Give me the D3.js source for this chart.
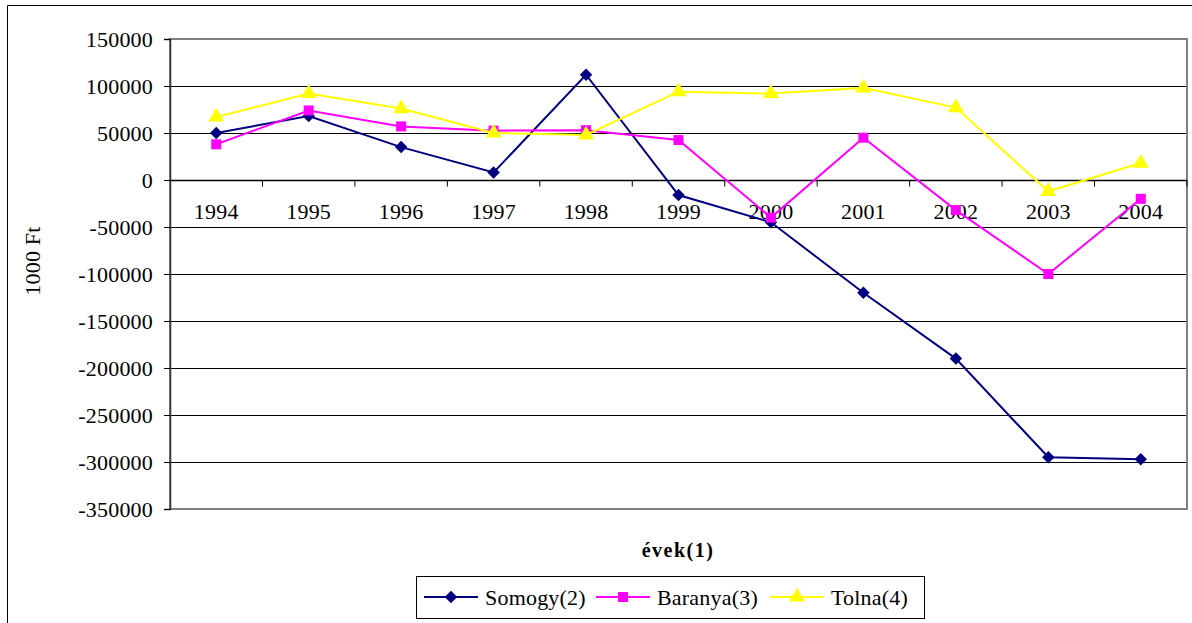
<html lang="hu">

<head>
    <meta charset="UTF-8">
    <title>Somogy, Baranya, Tolna</title>
    <script src="https://d3js.org/d3.v7.min.js"></script>
    <style>
        body { margin: 0; background: #fff; }
        text { font-family: "Liberation Serif", "Times New Roman", serif; font-size: 22px; fill: #000; letter-spacing: 0.2px; }
        .grid line { stroke: #000; stroke-width: 1; }
    </style>
</head>

<body>
    <svg width="1192" height="623"></svg>
    <script>

        var years = ["1994", "1995", "1996", "1997", "1998", "1999", "2000", "2001", "2002", "2003", "2004"];
        var somogy = [50000, 68000, 35000, 8000, 112000, -16000, -45000, -120000, -190000, -295000, -297000];
        var baranya = [38000, 74000, 57000, 52500, 53000, 42500, -40000, 45000, -32000, -100000, -20000];
        var tolna = [67000, 92000, 76000, 50000, 48000, 94000, 92000, 98000, 77000, -12000, 18000];
        var yTicks = [150000, 100000, 50000, 0, -50000, -100000, -150000, -200000, -250000, -300000, -350000];

        // diamond = square turned 45 degrees
        var series = [
            { name: "Somogy(2)", values: somogy, color: "#000080", symbol: d3.symbolSquare, size: 78, rot: 45 },
            { name: "Baranya(3)", values: baranya, color: "#ff00ff", symbol: d3.symbolSquare, size: 100, rot: 0 },
            { name: "Tolna(4)", values: tolna, color: "#ffff00", symbol: d3.symbolTriangle, size: 110, rot: 0 }
        ];

        var svg = d3.select("svg");
        var plotLeft = 170, plotRight = 1187, plotTop = 39, plotBottom = 509;

        var xScale = d3.scaleBand().domain(years).range([plotLeft, plotRight]).padding(0),
            yScale = d3.scaleLinear().domain([-350000, 150000]).range([plotBottom, plotTop]);
        var cx = function (i) { return xScale(years[i]) + xScale.bandwidth() / 2; };

        // outer frame (only top and left are inside the picture)
        svg.append("line").attr("x1", 7.5).attr("x2", 1192).attr("y1", 5.5).attr("y2", 5.5).attr("stroke", "#000");
        svg.append("line").attr("x1", 7.5).attr("x2", 7.5).attr("y1", 5.5).attr("y2", 623).attr("stroke", "#000");

        // horizontal gridlines
        svg.append("g").attr("class", "grid")
            .selectAll("line")
            .data(yTicks.slice(1, -1))
            .enter().append("line")
            .attr("x1", plotLeft).attr("x2", plotRight)
            .attr("y1", function (d) { return Math.round(yScale(d)) + 0.5; })
            .attr("y2", function (d) { return Math.round(yScale(d)) + 0.5; });

        // plot border in grey
        svg.append("rect")
            .attr("x", plotLeft).attr("y", plotTop).attr("width", plotRight - plotLeft).attr("height", plotBottom - plotTop)
            .attr("fill", "none").attr("stroke", "#808080").attr("stroke-width", 2);

        // y axis
        var yAxis = svg.append("g")
            .attr("transform", "translate(" + plotLeft + ",0)")
            .call(d3.axisLeft(yScale).tickValues(yTicks).tickSize(6).tickPadding(11).tickFormat(function (d) { return d; }));
        yAxis.select(".domain").attr("stroke", "#333").attr("stroke-width", 1.5);
        yAxis.selectAll(".tick line").attr("stroke", "#000");
        yAxis.selectAll("text").style("font-size", "22px").style("font-family", "Liberation Serif").attr("fill", "#000");

        // x axis at zero with ticks on category boundaries
        var y0 = Math.round(yScale(0)) + 0.5;
        svg.append("line").attr("x1", plotLeft).attr("x2", plotRight).attr("y1", y0).attr("y2", y0).attr("stroke", "#000").attr("stroke-width", 1.5);
        svg.append("g").selectAll("line")
            .data(years.slice(1).concat(["end"]))
            .enter().append("line")
            .attr("x1", function (d) { return d === "end" ? plotRight : xScale(d); })
            .attr("x2", function (d) { return d === "end" ? plotRight : xScale(d); })
            .attr("y1", y0).attr("y2", y0 + 6)
            .attr("stroke", "#000");
        svg.append("g").selectAll("text")
            .data(years)
            .enter().append("text")
            .attr("x", function (d, i) { return cx(i); })
            .attr("y", y0 + 38)
            .attr("text-anchor", "middle")
            .text(function (d) { return d; });

        // axis titles
        svg.append("text")
            .attr("transform", "translate(40,261) rotate(-90)")
            .attr("text-anchor", "middle")
            .text("1000 Ft");
        svg.append("text")
            .attr("x", 678).attr("y", 557)
            .attr("text-anchor", "middle")
            .style("font-weight", "bold").style("font-size", "20px").style("letter-spacing", "1.5px")
            .text("évek(1)");

        // lines and markers
        var line = d3.line()
            .x(function (d, i) { return cx(i); })
            .y(function (d) { return yScale(d); });

        series.forEach(function (s) {
            svg.append("path")
                .datum(s.values)
                .attr("fill", "none")
                .attr("stroke", s.color)
                .attr("stroke-width", 2)
                .attr("d", line);
            svg.append("g").selectAll("path")
                .data(s.values)
                .enter().append("path")
                .attr("transform", function (d, i) { return "translate(" + cx(i) + "," + yScale(d) + ") rotate(" + s.rot + ")"; })
                .attr("d", d3.symbol().type(s.symbol).size(s.size))
                .attr("fill", s.color);
        });

        // legend
        var legend = svg.append("g");
        legend.append("rect")
            .attr("x", 416.5).attr("y", 576.5).attr("width", 508).attr("height", 42)
            .attr("fill", "#fff").attr("stroke", "#000");
        var legendX = [424, 596, 770];
        series.forEach(function (s, i) {
            var g = legend.append("g").attr("transform", "translate(" + legendX[i] + ",597)");
            g.append("line").attr("x1", 0).attr("x2", 54).attr("stroke", s.color).attr("stroke-width", 2);
            g.append("path").attr("transform", "translate(27,0) rotate(" + s.rot + ")")
                .attr("d", d3.symbol().type(s.symbol).size(s.size)).attr("fill", s.color);
            g.append("text").attr("x", 61).attr("y", 8).text(s.name);
        });
    </script>
</body>

</html>
